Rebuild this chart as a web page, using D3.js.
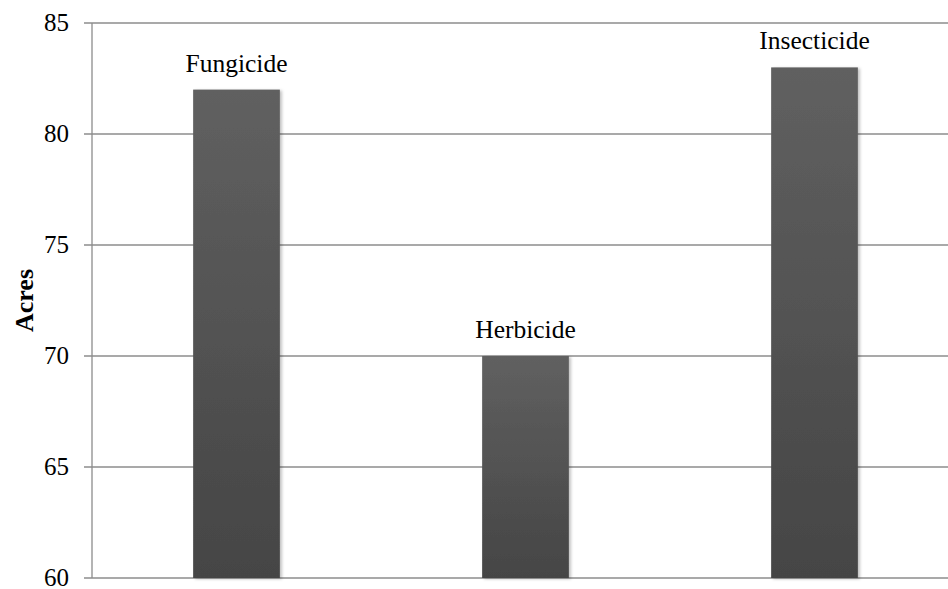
<!DOCTYPE html>
<html>
<head>
<meta charset="utf-8">
<script src="https://cdn.jsdelivr.net/npm/d3@7"></script>
<style>
  html, body { margin: 0; padding: 0; background: #fff; }
  svg { display: block; }
  svg text { font-family: "Liberation Serif", "Times New Roman", Times, "DejaVu Serif", serif; }
</style>
</head>
<body>
<div id="chart"></div>
<script>
const categories = ["Fungicide", "Herbicide", "Insecticide"];
const acres = [82, 70, 83];
const yTicks = [60, 65, 70, 75, 80, 85];

const width = 948,
    height = 589,
    plotLeft = 92, // y axis position
    plotTop = 23, // y = 85
    plotBottom = 578; // y = 60

const svg = d3.select("#chart")
    .append("svg")
    .attr("width", width)
    .attr("height", height);

const defs = svg.append("defs");
const grad = defs.append("linearGradient")
    .attr("id", "barFill")
    .attr("x1", 0).attr("y1", 0).attr("x2", 0).attr("y2", 1);
grad.append("stop").attr("offset", "0%").attr("stop-color", "#606060");
grad.append("stop").attr("offset", "100%").attr("stop-color", "#454545");

const shadow = defs.append("filter")
    .attr("id", "shadow")
    .attr("x", "-10%").attr("y", "-10%")
    .attr("width", "130%").attr("height", "130%");
shadow.append("feDropShadow")
    .attr("dx", 2).attr("dy", 1)
    .attr("stdDeviation", 1.5)
    .attr("flood-color", "#000")
    .attr("flood-opacity", 0.25);

// the category band runs past the right edge of the picture
const x = d3.scaleBand()
    .domain(categories)
    .range([plotLeft, 959])
    .paddingInner(0.7)
    .paddingOuter(0.35);

const y = d3.scaleLinear()
    .domain([60, 85])
    .range([plotBottom, plotTop]);

// gridlines + tick marks
svg.append("g")
    .attr("stroke", "#8c8c8c")
    .attr("stroke-width", 1.3)
    .selectAll("line")
    .data(yTicks)
    .join("line")
    .attr("x1", plotLeft - 8)
    .attr("x2", width)
    .attr("y1", d => y(d))
    .attr("y2", d => y(d));

// y axis line
svg.append("line")
    .attr("x1", plotLeft).attr("x2", plotLeft)
    .attr("y1", y(85)).attr("y2", y(60))
    .attr("stroke", "#8c8c8c")
    .attr("stroke-width", 1.3);

// tick labels
svg.append("g")
    .attr("font-size", 25)
    .attr("text-anchor", "end")
    .attr("fill", "#000")
    .selectAll("text")
    .data(yTicks)
    .join("text")
    .attr("x", 69)
    .attr("y", d => y(d))
    .attr("dy", "0.33em")
    .text(d => d);

// bars
svg.append("g")
    .selectAll("rect")
    .data(categories)
    .join("rect")
    .attr("x", d => x(d))
    .attr("width", x.bandwidth())
    .attr("y", (d, i) => y(acres[i]))
    .attr("height", (d, i) => y(60) - y(acres[i]))
    .attr("fill", "url(#barFill)")
    .attr("filter", "url(#shadow)");

// bar labels
svg.append("g")
    .attr("font-size", 25.5)
    .attr("text-anchor", "middle")
    .attr("fill", "#000")
    .selectAll("text")
    .data(categories)
    .join("text")
    .attr("x", d => x(d) + x.bandwidth() / 2)
    .attr("y", (d, i) => y(acres[i]) - 18)
    .text(d => d);

// axis title
svg.append("text")
    .attr("transform", `translate(33,${(y(60) + y(85)) / 2}) rotate(-90)`)
    .attr("font-size", 26)
    .attr("font-weight", "bold")
    .attr("text-anchor", "middle")
    .text("Acres");
</script>
</body>
</html>
